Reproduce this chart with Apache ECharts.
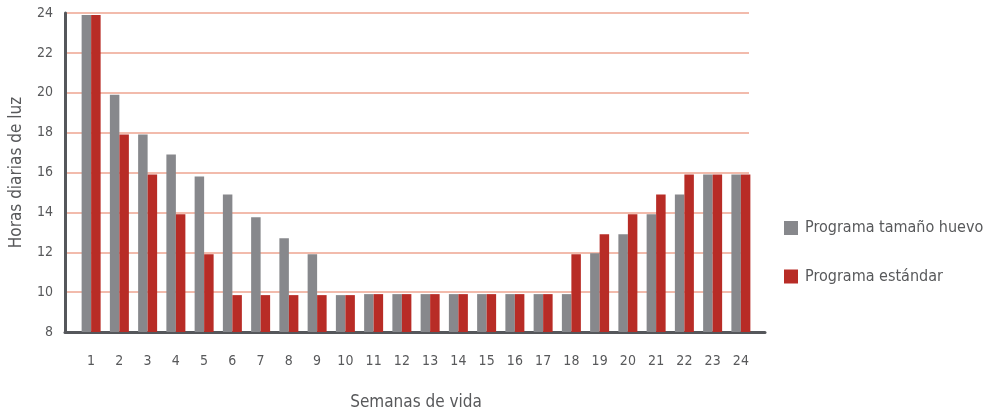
<!DOCTYPE html>
<html>
<head>
<meta charset="utf-8">
<script src="https://cdn.jsdelivr.net/npm/echarts@6/dist/echarts.min.js"></script>
<style>html,body{margin:0;padding:0;background:#fff}#c{width:996px;height:413px}</style>
</head>
<body>
<div id="c"></div>
<script>
const weeks = ['1','2','3','4','5','6','7','8','9','10','11','12','13','14','15','16','17','18','19','20','21','22','23','24'];
const tamanoHuevo = [23.9,19.9,17.9,16.9,15.8,14.9,13.75,12.7,11.9,9.85,9.9,9.9,9.9,9.9,9.9,9.9,9.9,9.9,11.95,12.9,13.9,14.9,15.9,15.9];
const estandar = [23.9,17.9,15.9,13.9,11.9,9.85,9.85,9.85,9.85,9.85,9.9,9.9,9.9,9.9,9.9,9.9,9.9,11.9,12.9,13.9,14.9,15.9,15.9,15.9];
const seriesNames = ['Programa tamaño huevo','Programa estándar'];
const FONT = "'Liberation Sans Narrow','DejaVu Sans Condensed',sans-serif";
const TXT = '#58595b';
const chart = echarts.init(document.getElementById('c'));
chart.setOption({
  animation:false,
  textStyle:{fontFamily:FONT},
  grid:[
    {left:77, right:241, top:13, bottom:81, outerBoundsMode:'none', containLabel:false},
    {left:65, right:247, top:13, bottom:81, outerBoundsMode:'none', containLabel:false},
    {left:65, right:231, top:13, bottom:81, outerBoundsMode:'none', containLabel:false}
  ],
  legend:{
    orient:'vertical', left:779, top:215, itemWidth:14, itemHeight:14, itemGap:32.5,
    icon:'rect',
    textStyle:{fontSize:16, color:TXT, fontFamily:FONT, padding:[0,0,0,2]},
    data:seriesNames
  },
  xAxis:[
    {type:'category', gridIndex:0, data:weeks, boundaryGap:true,
     axisLine:{show:false}, axisTick:{show:false},
     axisLabel:{color:TXT, fontSize:14, margin:22, fontFamily:FONT},
     name:'Semanas de vida', nameLocation:'middle', nameGap:62,
     nameTextStyle:{fontSize:17, color:TXT, fontFamily:FONT}},
    {type:'value', gridIndex:1, show:false, min:0, max:1},
    {type:'value', gridIndex:2, min:0, max:1,
     axisLine:{show:true, lineStyle:{color:'#55575b', width:3}},
     axisTick:{show:false}, axisLabel:{show:false}, splitLine:{show:false}}
  ],
  yAxis:[
    {type:'value', gridIndex:0, min:8, max:24, interval:2, show:false},
    {type:'value', gridIndex:1, min:8, max:24, interval:2,
     axisLine:{show:true, lineStyle:{color:'#55575b', width:3}},
     axisTick:{show:false},
     axisLabel:{color:TXT, fontSize:14, margin:12, fontFamily:FONT},
     splitLine:{show:true, lineStyle:{color:'#eea590', width:1.5}},
     name:'Horas diarias de luz', nameLocation:'middle', nameGap:40, nameRotate:90,
     nameTextStyle:{fontSize:17, color:TXT, fontFamily:FONT}},
    {type:'value', gridIndex:2, min:8, max:24, show:false}
  ],
  series:[
    {name:seriesNames[0], type:'bar', xAxisIndex:0, yAxisIndex:0, data:tamanoHuevo,
     barWidth:9.5, barGap:'0%', itemStyle:{color:'#87888c'}},
    {name:seriesNames[1], type:'bar', xAxisIndex:0, yAxisIndex:0, data:estandar,
     barWidth:9.5, barGap:'0%', itemStyle:{color:'#b82c26'}}
  ]
});
</script>
</body>
</html>
